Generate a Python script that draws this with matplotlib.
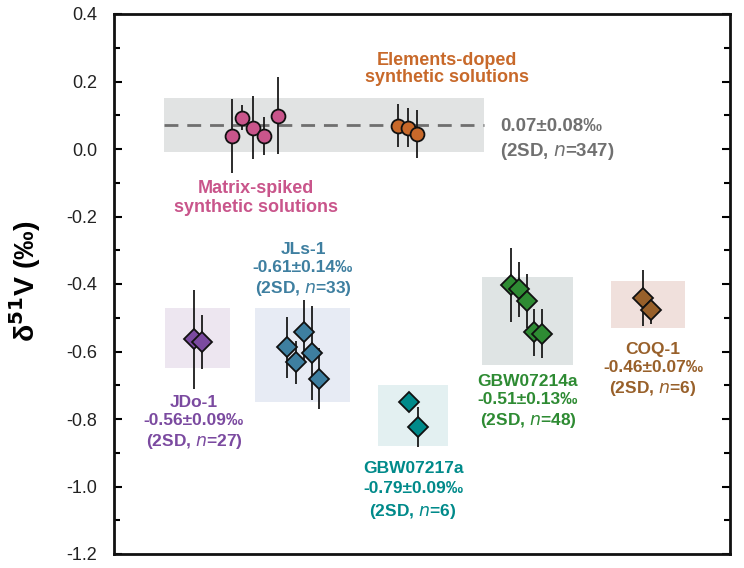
import matplotlib
matplotlib.use("Agg")
import matplotlib.pyplot as plt
from matplotlib.patches import Rectangle
from matplotlib.ticker import MultipleLocator

plt.rcParams['font.family'] = ['Liberation Sans', 'DejaVu Sans']

# ---- data (x = arbitrary horizontal position on the plot, y = d51V, err = 2SD) ----
ms_x = [232, 242, 253, 264, 278]
ms_y = [0.039, 0.093, 0.063, 0.038, 0.099]
ms_e = [0.110, 0.038, 0.093, 0.057, 0.114]

ed_x = [398, 408, 417]
ed_y = [0.069, 0.063, 0.044]
ed_e = [0.064, 0.058, 0.072]

jdo_x = [194, 202]
jdo_y = [-0.564, -0.571]
jdo_e = [0.147, 0.080]

jls_x = [287, 296, 304, 312, 319]
jls_y = [-0.588, -0.632, -0.543, -0.604, -0.680]
jls_e = [0.090, 0.063, 0.095, 0.140, 0.091]

g17_x = [409, 418]
g17_y = [-0.750, -0.823]
g17_e = [0.000, 0.060]

g14_x = [511, 519, 527, 534, 542]
g14_y = [-0.403, -0.416, -0.451, -0.543, -0.547]
g14_e = [0.111, 0.082, 0.080, 0.070, 0.072]

coq_x = [643, 651]
coq_y = [-0.441, -0.478]
coq_e = [0.082, 0.040]

# long-term means and 2SD
std_mean, std_sd = 0.07, 0.08
jdo_mean, jdo_sd = -0.56, 0.09
jls_mean, jls_sd = -0.61, 0.14
g17_mean, g17_sd = -0.79, 0.09
g14_mean, g14_sd = -0.51, 0.13
coq_mean, coq_sd = -0.46, 0.07

fig = plt.figure(figsize=(7.44, 5.68), dpi=100)
ax = fig.add_axes([114/744, 1-554/568, (730-114)/744, 540/568])
ax.set_xlim(114, 730)
ax.set_ylim(-1.2, 0.4)

def band(x0, x1, mean, sd, color):
    ax.add_patch(Rectangle((x0, mean - sd), x1 - x0, 2*sd, facecolor=color,
                           edgecolor='none', zorder=0))

band(164, 484, std_mean, std_sd, '#e1e3e3')
ax.plot([164, 484], [std_mean, std_mean], ls=(0, (5, 3.2)), color='#6f6f6f', lw=2, zorder=1)
band(165, 230, jdo_mean, jdo_sd, '#ede6f0')
band(255, 350, jls_mean, jls_sd, '#e7ebf4')
band(378, 448, g17_mean, g17_sd, '#e3f0f1')
band(482, 573, g14_mean, g14_sd, '#dfe4e4')
band(611, 685, coq_mean, coq_sd, '#f0e0dc')

def pts(x, y, e, color, marker, ms):
    ax.errorbar(x, y, yerr=e, fmt='none', ecolor='#1a1a1a', elinewidth=1.3, zorder=2)
    ax.plot(x, y, ls='none', marker=marker, ms=ms, mfc=color, mec='#111111', mew=1.3, zorder=3)

pts(ms_x, ms_y, ms_e, '#c9558b', 'o', 10)
pts(ed_x, ed_y, ed_e, '#c8692a', 'o', 10)
pts(jdo_x, jdo_y, jdo_e, '#7b4aa0', 'D', 10.5)
pts(jls_x, jls_y, jls_e, '#3e7fa0', 'D', 10.5)
pts(g17_x, g17_y, g17_e, '#008a8a', 'D', 10.5)
pts(g14_x, g14_y, g14_e, '#2e8b33', 'D', 10.5)
pts(coq_x, coq_y, coq_e, '#98602a', 'D', 10.5)

def lab(x, ypix, text, color, ha='center', fs=12.5, ls=1.25):
    y = (149 - ypix) / 337.5
    ax.text(x, y, text, color=color, ha=ha, va='center', fontsize=fs,
            fontweight='bold', linespacing=ls)

lab(447, 69, 'Elements-doped\nsynthetic solutions', '#c8692a', fs=13, ls=1.05)
lab(256, 198, 'Matrix-spiked\nsynthetic solutions', '#c9558b', fs=13, ls=1.2)
lab(500, 140, '0.07\u00b10.08\u2030\n(2SD, $\\mathit{n}$=347)', '#707070', ha='left', fs=13.5, ls=1.4)
lab(303, 270, 'JLs-1\n-0.61\u00b10.14\u2030\n(2SD, $\\mathit{n}$=33)', '#3e7fa0')
lab(194, 423, 'JDo-1\n-0.56\u00b10.09\u2030\n(2SD, $\\mathit{n}$=27)', '#7b4aa0')
lab(413, 491, 'GBW07217a\n-0.79\u00b10.09\u2030\n(2SD, $\\mathit{n}$=6)', '#008a8a', ls=1.4)
lab(528, 402, 'GBW07214a\n-0.51\u00b10.13\u2030\n(2SD, $\\mathit{n}$=48)', '#2e8b33')
lab(653, 370, 'COQ-1\n-0.46\u00b10.07\u2030\n(2SD, $\\mathit{n}$=6)', '#98602a')

yticks = [0.4, 0.2, 0.0, -0.2, -0.4, -0.6, -0.8, -1.0, -1.2]
ax.set_yticks(yticks)
ax.set_yticklabels([f'{t:.1f}' for t in yticks])
ax.yaxis.set_minor_locator(MultipleLocator(0.1))
ax.set_xticks([])
ax.tick_params(axis='y', which='both', direction='in', left=True, right=True,
               labelsize=13, labelcolor='#222222', width=1.5, pad=12)
ax.tick_params(axis='y', which='major', length=6)
ax.tick_params(axis='y', which='minor', length=4)
for s in ax.spines.values():
    s.set_linewidth(2)
    s.set_color('#111111')

ax.set_ylabel('\u03b4$^{\\mathbf{51}}$V (\u2030)', fontsize=20.5, fontweight='bold')
ax.yaxis.set_label_coords(-0.115, 0.505)

fig.savefig('out.png', dpi=100)
